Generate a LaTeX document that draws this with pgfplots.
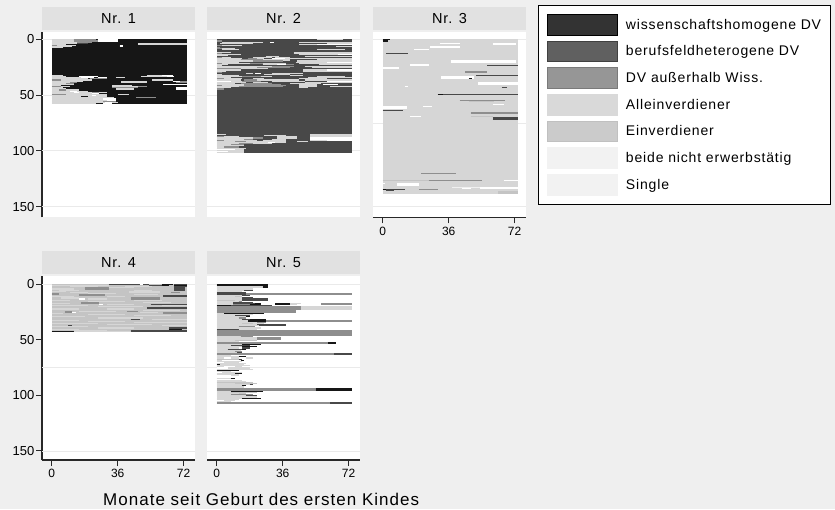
\documentclass[border=0pt]{standalone}
\usepackage{pgfplots}
\pgfplotsset{compat=1.18}
\usepackage{fontspec}
\setmainfont{Liberation Sans}
\newfontfamily\lsp[LetterSpace=6]{Liberation Sans}
\definecolor{bgc}{RGB}{239,239,239}
\definecolor{stripc}{RGB}{225,225,225}
\definecolor{gridc}{RGB}{234,234,234}
\definecolor{axisc}{RGB}{40,40,40}
\definecolor{pW}{RGB}{22,22,22}
\definecolor{pB}{RGB}{72,72,72}
\definecolor{pL}{RGB}{214,214,214}
\definecolor{pE}{RGB}{196,196,196}
\definecolor{lW}{RGB}{51,51,51}
\definecolor{lB}{RGB}{96,96,96}
\definecolor{lBd}{RGB}{64,64,64}
\definecolor{lA}{RGB}{150,150,150}
\definecolor{lAd}{RGB}{122,122,122}
\definecolor{lL}{RGB}{217,217,217}
\definecolor{lE}{RGB}{203,203,203}
\definecolor{lEd}{RGB}{192,192,192}
\definecolor{lN}{RGB}{242,242,242}
\pgfplotsset{
 seqbase/.style={scale only axis, width=153pt, xmin=-5.3, xmax=78.2,
  axis background/.style={fill=white},
  y filter/.expression={-y},
  axis lines*=left,
  axis line style={draw=axisc, line width=1.3pt, -},
  tick align=outside, major tick length=6pt,
  tick style={draw=axisc, line width=1pt},
  /pgf/number format/assume math mode=true,
  yticklabel style={font=\fontsize{13}{15}\selectfont, inner sep=1.5pt},
  xticklabel style={font=\fontsize{12}{14}\selectfont},
  xtick={0,36,72},
  colormap={seqmap}{rgb255=(22,22,22) rgb255=(72,72,72) rgb255=(142,142,142) rgb255=(214,214,214) rgb255=(196,196,196) rgb255=(240,240,240) rgb255=(255,255,255)},
  point meta min=0, point meta max=6,
  grid style={draw=gridc, line width=0.8pt},
  extra y tick style={grid=major, major tick length=0pt},
  extra y tick labels={},
  every axis title/.style={at={(0.5,1)}, anchor=south, yshift=1.5pt, fill=stripc, minimum width=153pt, minimum height=23pt, inner sep=0pt, font=\lsp\fontsize{14.5}{17}\selectfont},
 },
 row1/.style={height=185.6pt, ymin=-159.5, ymax=6.8},
 row2/.style={height=184pt, ymin=-158.1, ymax=7.2},
 noxax/.style={xtick=\empty, x axis line style={draw=none}},
 noyax/.style={ytick=\empty, y axis line style={draw=none}},
 yax/.style={ytick={0,-50,-100,-150}, yticklabels={0,50,100,150}},
 grid50/.style={extra y ticks={0,-50,-100,-150}},
 grid75/.style={extra y ticks={0,-75,-150}},
 seg/.style={forget plot, point meta=\thisrow{c}, -,
  quiver={u=\thisrow{l}, v=0, every arrow/.append style={line width=1.15pt, draw=mapped color}}},
}
\begin{document}
\begin{tikzpicture}
\path[fill=bgc] (0pt,0pt) rectangle (835pt,-509pt);
% ---------------- Nr. 1
\begin{axis}[seqbase,row1,yax,noxax,grid50,at={(42pt,-31.7pt)},anchor=north west,title={Nr. 1}]
\addplot[forget plot, fill=pW, draw=none] coordinates {(0,0) (74,0) (74,58) (0,58)} --cycle;
\addplot[seg] table {
x y l c
0 0.5 12 3
12 0.5 12 2
25 0.5 11 6
0 1.5 12 3
12 1.5 13 2
25 1.5 11 6
0 2.5 14 3
14 2.5 8 2
0 3.5 14 3
14 3.5 6 1
47 3.5 27 3
0 4.5 8 3
47 4.5 27 3
0 5.5 3 2
3 5.5 10 3
37 5.5 2 6
0 6.5 11 3
37 6.5 2 6
0 7.5 6 3
0 32.5 6 3
52 32.5 8 3
60 32.5 6 6
0 33.5 8 3
15 33.5 10 6
49 33.5 14 3
63 33.5 4 6
0 34.5 16 3
16 34.5 7 6
25 34.5 5 6
35 34.5 5 3
0 35.5 20 3
21 35.5 9 2
0 36.5 5 2
5 36.5 17 3
55 36.5 11 3
0 37.5 17 3
38 37.5 14 3
66 37.5 4 6
70 37.5 4 2
0 38.5 10 3
10 38.5 4 2
38 38.5 14 3
68 38.5 6 2
0 39.5 8 3
8 39.5 4 2
0 40.5 12 3
61 40.5 13 6
0 41.5 5 3
33 41.5 11 3
0 42.5 5 2
5 42.5 5 3
33 42.5 14 3
47 42.5 5 2
0 43.5 6 3
33 43.5 14 2
68 43.5 6 6
0 44.5 8 3
35 44.5 10 3
68 44.5 6 6
0 45.5 15 3
4 45.5 4 2
0 46.5 20 3
10 46.5 4 6
0 47.5 22 3
12 47.5 3 6
22 47.5 4 2
26 47.5 4 3
0 48.5 22 3
22 48.5 4 6
0 49.5 8 2
8 49.5 22 3
36 49.5 6 3
0 50.5 30 3
22 50.5 2 6
0 51.5 16 3
20 51.5 10 3
0 52.5 34 3
46 52.5 11 2
0 53.5 28 3
28 53.5 7 6
0 54.5 30 3
30 54.5 5 6
0 55.5 28 3
28 55.5 7 2
0 56.5 29 3
29 56.5 4 6
33 56.5 3 3
0 57.5 24 3
28 57.5 5 6
};
\end{axis}
% ---------------- Nr. 2
\begin{axis}[seqbase,row1,noyax,noxax,grid50,at={(207pt,-31.7pt)},anchor=north west,title={Nr. 2}]
\addplot[forget plot, fill=pB, draw=none] coordinates {(0,0) (74,0) (74,102) (0,102)} --cycle;
\addplot[seg] table {
x y l c
55 0.5 14 3
0 1.5 3 2
3 2.5 22 3
29 2.5 2 6
45 2.5 29 3
2 3.5 18 3
60 3.5 14 3
45 4.5 10 3
55 4.5 19 6
0 5.5 3 2
3 5.5 11 3
65 6.5 9 3
0 7.5 2 2
0 8.5 3 2
3 8.5 7 3
3 9.5 9 3
55 9.5 15 3
0 11.5 8 3
42 11.5 32 3
0 12.5 3 2
42 12.5 32 3
0 13.5 13 3
45 13.5 21 3
66 13.5 8 6
0 14.5 6 3
27 15.5 7 3
48 15.5 26 3
0 16.5 3 2
3 16.5 5 3
20 16.5 10 3
32 16.5 8 3
0 17.5 14 3
17 17.5 5 2
22 17.5 4 3
30 17.5 7 6
37 17.5 37 3
0 18.5 13 3
13 18.5 12 2
25 18.5 15 3
55 18.5 19 3
0 19.5 20 3
20 19.5 16 2
44 19.5 30 3
0 20.5 12 3
43 20.5 17 3
60 20.5 14 6
0 21.5 3 2
3 21.5 15 3
18 21.5 7 2
25 21.5 13 3
45 21.5 29 3
0 22.5 6 3
25 22.5 8 3
33 22.5 5 6
38 22.5 4 2
56 22.5 18 3
0 23.5 3 3
0 24.5 30 3
30 24.5 12 2
48 24.5 26 3
0 25.5 22 3
22 25.5 18 2
52 25.5 22 3
0 26.5 13 2
13 26.5 15 3
0 27.5 13 3
47 27.5 13 3
60 27.5 14 6
0 28.5 5 3
47 28.5 27 3
0 29.5 3 2
16 30.5 4 3
21 30.5 3 6
30 30.5 17 3
0 31.5 3 3
26 31.5 14 3
0 32.5 12 3
40 32.5 7 3
0 33.5 14 3
14 33.5 10 2
24 33.5 6 3
55 33.5 15 3
0 34.5 8 3
50 34.5 24 3
0 35.5 4 2
4 35.5 10 3
20 35.5 6 3
45 35.5 15 3
0 36.5 13 3
15 36.5 7 2
22 36.5 23 3
48 36.5 26 3
0 37.5 8 6
8 37.5 6 3
14 37.5 10 2
30 37.5 18 3
60 37.5 14 6
0 38.5 16 3
20 38.5 8 3
48 38.5 26 3
0 39.5 10 3
13 39.5 17 2
40 39.5 17 3
0 40.5 15 3
15 40.5 20 2
45 40.5 10 3
58 40.5 8 6
0 41.5 3 2
3 41.5 12 3
15 41.5 23 2
45 41.5 10 3
0 42.5 12 3
12 42.5 24 2
45 42.5 10 3
62 42.5 12 3
0 43.5 8 3
45 43.5 5 3
0 44.5 4 2
0 85.5 5 3
51 85.5 23 3
26 86.5 12 3
51 86.5 23 3
0 87.5 4 2
4 87.5 8 3
33 87.5 11 3
51 87.5 23 3
0 88.5 20 3
20 88.5 5 2
33 88.5 11 3
51 88.5 23 6
0 89.5 15 3
15 89.5 5 2
30 89.5 8 3
51 89.5 23 6
0 90.5 4 2
4 90.5 18 3
25 90.5 13 3
51 90.5 9 3
60 90.5 14 6
0 91.5 10 3
10 91.5 6 2
16 91.5 22 3
44 91.5 6 3
0 92.5 28 3
28 92.5 4 6
32 92.5 6 3
0 93.5 12 3
12 93.5 8 2
20 93.5 10 3
0 94.5 8 3
8 94.5 7 2
0 95.5 15 3
0 96.5 4 3
4 96.5 8 2
0 97.5 16 3
0 98.5 10 6
10 98.5 5 3
0 99.5 15 3
0 100.5 6 6
6 100.5 9 3
0 101.5 15 3
};
\end{axis}
% ---------------- Nr. 3
\begin{axis}[seqbase,row1,noyax,grid75,at={(373pt,-31.7pt)},anchor=north west,title={Nr. 3},
  legend image code/.code={\draw[#1, line width=1pt] (0pt,-10.35pt) rectangle (70pt,10.35pt);},
  legend style={at={(1.0784,1.1439)}, anchor=north west, draw=black, line width=1pt, fill=white,
    inner xsep=9pt, inner ysep=8.5pt, row sep=5pt, column sep=7.5pt,
    font=\lsp\fontsize{14}{16}\selectfont, cells={anchor=west}, nodes={inner sep=0pt}}]
\addplot[forget plot, fill=pL, draw=none] coordinates {(0,0) (74,0) (74,139) (0,139)} --cycle;
\addplot[seg] table {
x y l c
0 0.5 4 0
0 1.5 3 0
31 3.5 11 6
60 3.5 13 6
60 4.5 13 6
26 6.5 16 6
26 7.5 16 6
17 9.5 8 6
2 12.5 12 1
37 19.5 36 6
37 20.5 36 6
15 22.5 10 6
15 23.5 10 6
57 23.5 17 1
0 25.5 9 6
0 26.5 9 6
45 28.5 12 2
45 29.5 12 2
51 32.5 23 1
32 33.5 18 6
32 34.5 18 6
32 35.5 18 6
47 35.5 1.5 0
52 38.5 22 6
52 39.5 22 6
52 40.5 22 6
12 42.5 2 6
65 43.5 3 1
30 49.5 3 0
33 49.5 41 1
42 54.5 25 2
47 55.5 14 4
60 58.5 6 6
0 60.5 13 6
22 60.5 5 6
0 61.5 13 6
0 63.5 11 1
48 65.5 26 2
48 66.5 26 2
15 69.5 6 6
48 69.5 12 4
60 70.5 14 1
60 71.5 14 1
21 120.5 19 2
0 126.5 25 4
25 126.5 29 2
66 126.5 8 6
0 129.5 1.5 6
8 129.5 12 6
8 130.5 12 6
38 132.5 15 5
53 132.5 21 6
43 133.5 5 6
53 133.5 21 6
0 134.5 2 0
2 134.5 10 1
20 134.5 10 2
2 135.5 4 1
63 136.5 11 4
63 137.5 11 4
63 138.5 11 4
};
\addlegendimage{fill=lW, draw=black}
\addlegendentry{wissenschaftshomogene DV}
\addlegendimage{fill=lB, draw=lBd}
\addlegendentry{berufsfeldheterogene DV}
\addlegendimage{fill=lA, draw=lAd}
\addlegendentry{DV außerhalb Wiss.}
\addlegendimage{fill=lL, draw=lL}
\addlegendentry{Alleinverdiener}
\addlegendimage{fill=lE, draw=lEd}
\addlegendentry{Einverdiener}
\addlegendimage{fill=lN, draw=lN}
\addlegendentry{beide nicht erwerbstätig}
\addlegendimage{fill=lN, draw=lN}
\addlegendentry{Single}
\end{axis}
% ---------------- Nr. 4
\begin{axis}[seqbase,row2,yax,grid75,at={(42pt,-276pt)},anchor=north west,title={Nr. 4}]
\addplot[forget plot, fill=pE, draw=none] coordinates {(0,0) (74,0) (74,43) (0,43)} --cycle;
\addplot[seg] table {
x y l c
31 0.5 17 1
48 0.5 2 6
50 0.5 3 1
60 0.5 6 0
67 0.5 7 1
0 1.5 31 3
53 1.5 7 1
60 1.5 4 0
67 1.5 7 0
10 2.5 15 3
40 2.5 15 3
67 2.5 7 1
18 3.5 13 2
31 3.5 14 3
67 3.5 6 1
0 4.5 12 3
18 4.5 13 2
67 4.5 6 1
4 5.5 11 3
45 5.5 10 3
67 5.5 6 1
0 6.5 8 3
42 6.5 17 3
10 7.5 10 3
42 7.5 17 3
65 7.5 5 2
0 8.5 4 2
20 8.5 15 3
0 9.5 4 2
15 9.5 14 2
45 9.5 13 3
15 10.5 14 2
61 10.5 13 1
0 11.5 12 3
30 11.5 10 3
61 11.5 13 1
5 12.5 10 3
43 12.5 16 2
15 13.5 3 6
20 13.5 10 3
43 13.5 16 2
0 14.5 10 3
45 14.5 15 3
20 15.5 20 3
16 16.5 10 2
50 16.5 15 3
0 17.5 10 3
16 17.5 10 2
26 18.5 2 6
30 18.5 15 3
54 18.5 20 1
0 19.5 20 3
60 19.5 14 3
25 20.5 25 3
52 21.5 22 1
0 22.5 15 3
30 22.5 15 3
50 23.5 20 3
7 24.5 4 2
15 24.5 20 3
41 24.5 6 2
7 25.5 4 2
11 25.5 2 6
48 25.5 10 3
61 25.5 13 2
0 26.5 6 3
61 26.5 13 2
20 27.5 20 3
45 28.5 20 3
0 29.5 18 3
25 30.5 25 3
43 31.5 5 1
55 31.5 19 3
0 32.5 15 3
20 33.5 20 3
45 34.5 29 3
0 35.5 25 3
30 36.5 25 3
9 37.5 2 1
60 37.5 14 3
0 38.5 20 3
25 39.5 20 3
64 39.5 10 1
0 40.5 15 3
64 40.5 7 0
12 41.5 18 3
43 41.5 31 1
0 42.5 12 0
12 42.5 31 3
43 42.5 31 1
};
\end{axis}
% ---------------- Nr. 5
\begin{axis}[seqbase,row2,noyax,grid75,at={(207pt,-276pt)},anchor=north west,title={Nr. 5}]
\addplot[seg] table {
x y l c
0 0.5 28 0
0 1.5 28 0
0 2.5 25 3
25 2.5 3 0
0 3.5 25 3
25 3.5 3 0
0 4.5 20 3
0 5.5 15 3
15 5.5 5 1
0 6.5 14 3
0 7.5 16 1
0 8.5 16 1
16 8.5 58 2
0 9.5 16 1
16 9.5 58 2
0 10.5 14 3
14 10.5 4 1
0 11.5 10 3
10 11.5 4 4
0 12.5 14 3
14 12.5 6 1
0 13.5 14 3
14 13.5 14 1
0 14.5 10 4
10 14.5 4 3
14 14.5 14 1
0 15.5 12 3
12 15.5 2 2
0 16.5 9 3
9 16.5 11 1
0 17.5 9 3
9 17.5 12 1
21 17.5 3 0
24 17.5 8 6
32 17.5 8 0
40 17.5 6 3
46 17.5 11 6
57 17.5 17 2
0 18.5 9 3
9 18.5 9 2
18 18.5 6 0
24 18.5 8 6
32 18.5 8 0
40 18.5 4 3
44 18.5 13 6
57 18.5 17 2
0 19.5 8 0
8 19.5 22 1
0 20.5 46 2
46 20.5 28 3
0 21.5 46 2
46 21.5 28 3
0 22.5 46 2
46 22.5 28 3
0 23.5 43 2
0 24.5 43 2
0 25.5 43 2
0 26.5 4 3
4 26.5 22 0
0 27.5 20 3
0 28.5 10 3
10 28.5 8 1
0 29.5 16 3
16 29.5 2 0
0 30.5 12 3
12 30.5 4 2
0 31.5 14 3
14 31.5 4 1
18 31.5 9 0
0 32.5 17 3
17 32.5 10 0
27 32.5 47 2
0 33.5 17 3
17 33.5 10 0
27 33.5 47 2
0 34.5 22 3
22 34.5 5 2
0 35.5 14 3
14 35.5 6 4
20 35.5 6 3
0 36.5 22 3
22 36.5 16 1
0 37.5 23 3
23 37.5 15 1
0 38.5 12 3
12 38.5 9 2
0 39.5 24 3
0 40.5 12 1
12 40.5 10 3
0 41.5 74 2
0 42.5 74 2
0 43.5 74 2
0 44.5 74 2
0 45.5 74 2
0 46.5 74 2
0 47.5 13 3
13 47.5 7 2
0 48.5 22 3
22 48.5 13 2
0 49.5 22 3
22 49.5 13 2
35 49.5 2 6
0 50.5 10 3
10 50.5 12 4
0 51.5 12 3
12 51.5 4 6
0 52.5 61 2
61 52.5 4 0
0 53.5 61 2
61 53.5 4 0
0 54.5 14 3
14 54.5 10 0
0 55.5 8 3
8 55.5 10 1
0 56.5 14 3
14 56.5 8 0
0 57.5 12 3
12 57.5 2 6
14 57.5 4 1
0 58.5 6 3
6 58.5 8 1
14 58.5 2 0
0 59.5 13 3
0 60.5 10 3
10 60.5 4 2
0 61.5 11 3
11 61.5 3 1
0 62.5 64 2
64 62.5 10 1
0 63.5 64 2
64 63.5 10 1
0 64.5 8 3
8 64.5 4 6
0 65.5 12 3
12 65.5 4 0
0 66.5 4 3
4 66.5 4 6
8 66.5 4 3
12 66.5 4 6
16 66.5 4 3
0 67.5 12 4
12 67.5 2 1
0 68.5 3 3
3 68.5 10 6
13 68.5 2 0
0 69.5 14 3
0 70.5 4 6
4 70.5 8 3
0 71.5 16 3
0 72.5 2 0
2 72.5 13 3
0 73.5 18 3
0 74.5 4 3
4 74.5 6 6
10 74.5 4 3
0 75.5 6 6
6 75.5 12 3
0 76.5 20 3
0 77.5 12 0
0 78.5 8 3
8 78.5 4 6
0 79.5 3 6
3 79.5 11 3
0 80.5 10 3
10 80.5 4 0
0 81.5 12 3
0 82.5 8 6
8 82.5 4 3
0 83.5 10 6
0 84.5 8 3
8 84.5 2 0
0 85.5 12 6
0 86.5 14 3
14 86.5 2 6
0 87.5 16 3
16 87.5 4 6
0 88.5 20 4
0 89.5 10 3
10 89.5 12 4
0 90.5 18 3
18 90.5 2 1
0 91.5 14 3
14 91.5 2 0
0 92.5 15 3
0 93.5 54 2
54 93.5 20 0
0 94.5 54 2
54 94.5 20 0
0 95.5 54 2
54 95.5 20 0
0 96.5 8 3
8 96.5 17 0
0 97.5 8 3
8 97.5 14 4
0 98.5 12 3
12 98.5 4 4
0 99.5 8 3
8 99.5 12 2
0 100.5 16 3
16 100.5 6 1
0 101.5 22 3
0 102.5 14 3
14 102.5 10 0
0 103.5 12 3
0 104.5 4 6
4 104.5 6 3
0 105.5 8 3
0 106.5 62 2
62 106.5 12 1
0 107.5 62 2
62 107.5 12 1
};
\end{axis}
\node[anchor=base west, font=\lsp\fontsize{17}{20}\selectfont, inner sep=0pt] at (103pt,-505pt) {Monate seit Geburt des ersten Kindes};
\end{tikzpicture}
\end{document}
